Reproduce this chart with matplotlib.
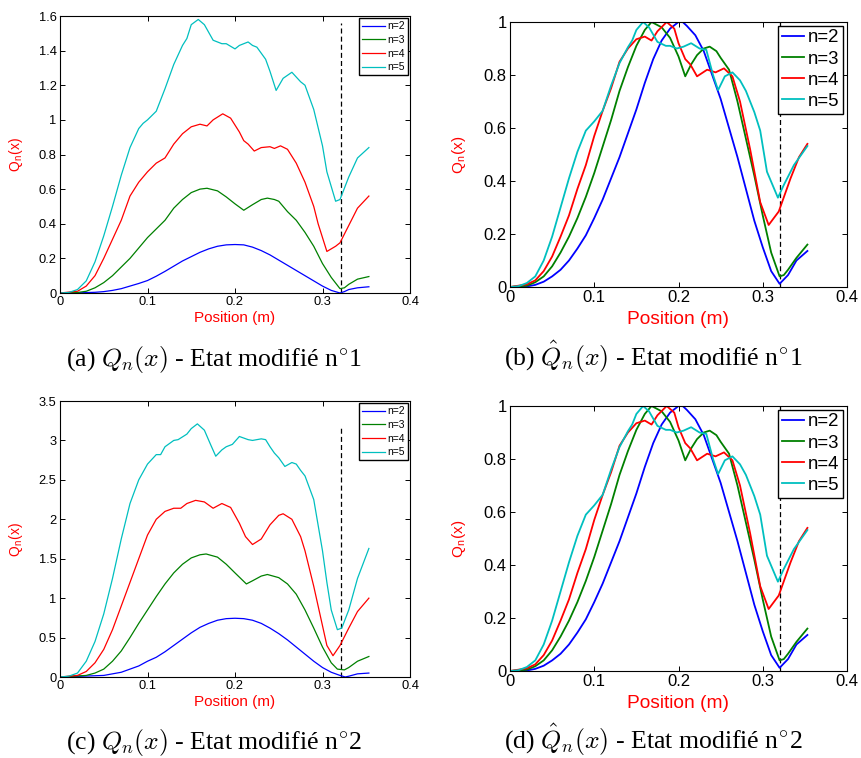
import matplotlib
matplotlib.use("Agg")
import matplotlib.pyplot as plt
from matplotlib.ticker import FuncFormatter, MultipleLocator

plt.rcParams['font.family'] = ['Liberation Sans', 'DejaVu Sans']
plt.rcParams['mathtext.fontset'] = 'cm'

# ---- panel (a): Q_n(x), etat modifie n°1 ----
a_x2 = [0, 0.02, 0.04, 0.05, 0.06, 0.07, 0.08, 0.09, 0.10, 0.11, 0.12, 0.13, 0.14, 0.15, 0.16, 0.17,
        0.18, 0.19, 0.20, 0.21, 0.22, 0.23, 0.24, 0.25, 0.26, 0.27, 0.28, 0.29, 0.30, 0.31, 0.32,
        0.325, 0.33, 0.34, 0.353]
a_y2 = [0, 0.001, 0.004, 0.008, 0.015, 0.025, 0.04, 0.055, 0.072, 0.097, 0.125, 0.155, 0.185, 0.21,
        0.235, 0.255, 0.27, 0.278, 0.28, 0.278, 0.265, 0.245, 0.22, 0.19, 0.16, 0.13, 0.1, 0.07, 0.04,
        0.015, 0.0, 0.008, 0.02, 0.03, 0.036]
a_x3 = [0, 0.02, 0.03, 0.04, 0.05, 0.06, 0.07, 0.08, 0.09, 0.10, 0.11, 0.12, 0.13, 0.14, 0.15, 0.16,
        0.168, 0.18, 0.19, 0.20, 0.21, 0.22, 0.23, 0.237, 0.245, 0.25, 0.26, 0.27, 0.28, 0.29, 0.30,
        0.31, 0.32, 0.325, 0.33, 0.34, 0.353]
a_y3 = [0, 0.003, 0.01, 0.03, 0.06, 0.1, 0.15, 0.2, 0.26, 0.32, 0.37, 0.42, 0.49, 0.54, 0.58, 0.60,
        0.605, 0.59, 0.555, 0.515, 0.478, 0.51, 0.54, 0.548, 0.54, 0.53, 0.47, 0.42, 0.35, 0.27, 0.17,
        0.09, 0.025, 0.03, 0.05, 0.08, 0.095]
a_x4 = [0, 0.02, 0.03, 0.04, 0.05, 0.06, 0.07, 0.08, 0.09, 0.10, 0.11, 0.12, 0.13, 0.14, 0.15, 0.16,
        0.168, 0.175, 0.186, 0.195, 0.205, 0.21, 0.215, 0.222, 0.23, 0.24, 0.245, 0.252, 0.26, 0.27,
        0.28, 0.29, 0.295, 0.305, 0.315, 0.32, 0.33, 0.34, 0.353]
a_y4 = [0, 0.01, 0.04, 0.1, 0.2, 0.31, 0.42, 0.56, 0.64, 0.70, 0.75, 0.78, 0.86, 0.92, 0.96, 0.975,
        0.965, 1.0, 1.035, 1.01, 0.93, 0.88, 0.86, 0.82, 0.84, 0.845, 0.835, 0.85, 0.83, 0.75, 0.64,
        0.5, 0.4, 0.24, 0.27, 0.29, 0.39, 0.49, 0.56]
a_x5 = [0, 0.01, 0.02, 0.03, 0.04, 0.05, 0.06, 0.07, 0.08, 0.09, 0.095, 0.10, 0.11, 0.12, 0.13, 0.14,
        0.145, 0.15, 0.158, 0.165, 0.175, 0.185, 0.19, 0.20, 0.205, 0.215, 0.22, 0.225, 0.235, 0.24,
        0.247, 0.255, 0.265, 0.275, 0.28, 0.29, 0.30, 0.305, 0.315, 0.32, 0.33, 0.34, 0.353]
a_y5 = [0, 0.003, 0.02, 0.07, 0.18, 0.33, 0.5, 0.68, 0.84, 0.95, 0.98, 1.0, 1.05, 1.18, 1.32, 1.43,
        1.47, 1.55, 1.58, 1.55, 1.46, 1.44, 1.44, 1.41, 1.43, 1.45, 1.43, 1.42, 1.35, 1.28, 1.17, 1.24,
        1.275, 1.22, 1.2, 1.06, 0.85, 0.7, 0.53, 0.54, 0.67, 0.78, 0.84]

# ---- panels (b) and (d): normalised Q_n(x) (the two look identical) ----
b_x2 = [0, 0.02, 0.03, 0.04, 0.05, 0.06, 0.07, 0.08, 0.09, 0.10, 0.11, 0.12, 0.13, 0.14, 0.15, 0.16,
        0.17, 0.18, 0.19, 0.20, 0.205, 0.21, 0.22, 0.23, 0.24, 0.25, 0.26, 0.27, 0.28, 0.29, 0.30,
        0.31, 0.32, 0.33, 0.34, 0.353]
b_y2 = [0, 0.002, 0.008, 0.02, 0.04, 0.065, 0.1, 0.145, 0.195, 0.26, 0.33, 0.41, 0.49, 0.58, 0.67,
        0.77, 0.86, 0.93, 0.975, 1.0, 1.0, 0.985, 0.95, 0.89, 0.8, 0.71, 0.6, 0.49, 0.37, 0.25, 0.15,
        0.06, 0.012, 0.045, 0.1, 0.136]
b_x3 = [0, 0.02, 0.03, 0.04, 0.05, 0.06, 0.07, 0.08, 0.09, 0.10, 0.11, 0.12, 0.13, 0.14, 0.15, 0.16,
        0.168, 0.18, 0.19, 0.20, 0.208, 0.215, 0.222, 0.23, 0.237, 0.245, 0.25, 0.26, 0.27, 0.28, 0.29,
        0.30, 0.31, 0.32, 0.325, 0.33, 0.34, 0.353]
b_y3 = [0, 0.005, 0.018, 0.04, 0.078, 0.13, 0.19, 0.26, 0.34, 0.43, 0.53, 0.63, 0.74, 0.83, 0.91,
        0.97, 1.0, 0.98, 0.94, 0.87, 0.795, 0.84, 0.875, 0.9, 0.907, 0.89, 0.865, 0.82, 0.7, 0.56, 0.42,
        0.27, 0.13, 0.04, 0.045, 0.065, 0.11, 0.16]
b_x4 = [0, 0.02, 0.03, 0.04, 0.05, 0.06, 0.07, 0.08, 0.09, 0.10, 0.11, 0.12, 0.13, 0.14, 0.15, 0.16,
        0.168, 0.175, 0.186, 0.195, 0.20, 0.208, 0.214, 0.222, 0.234, 0.244, 0.254, 0.264, 0.273,
        0.285, 0.297, 0.307, 0.319, 0.333, 0.343, 0.353]
b_y4 = [0, 0.01, 0.025, 0.06, 0.115, 0.19, 0.27, 0.37, 0.46, 0.57, 0.665, 0.75, 0.85, 0.9, 0.935,
        0.945, 0.93, 0.965, 1.0, 0.975, 0.92, 0.86, 0.84, 0.795, 0.82, 0.81, 0.825, 0.795, 0.7, 0.52,
        0.32, 0.234, 0.285, 0.41, 0.49, 0.54]
b_x5 = [0, 0.01, 0.02, 0.03, 0.04, 0.05, 0.06, 0.07, 0.08, 0.09, 0.10, 0.11, 0.12, 0.13, 0.14, 0.145,
        0.15, 0.158, 0.165, 0.175, 0.185, 0.19, 0.198, 0.206, 0.215, 0.225, 0.233, 0.241, 0.247,
        0.255, 0.264, 0.273, 0.28, 0.29, 0.297, 0.305, 0.318, 0.325, 0.337, 0.353]
b_y5 = [0, 0.003, 0.015, 0.04, 0.1, 0.19, 0.3, 0.41, 0.51, 0.59, 0.625, 0.665, 0.76, 0.845, 0.905,
        0.93, 0.97, 1.0, 0.98, 0.925, 0.91, 0.91, 0.9, 0.907, 0.92, 0.9, 0.895, 0.8, 0.743, 0.795,
        0.81, 0.78, 0.74, 0.66, 0.59, 0.435, 0.337, 0.385, 0.46, 0.532]

# ---- panel (c): Q_n(x), etat modifie n°2 ----
c_x2 = [0, 0.05, 0.06, 0.07, 0.08, 0.09, 0.10, 0.11, 0.12, 0.13, 0.14, 0.15, 0.16, 0.17, 0.18, 0.19,
        0.20, 0.21, 0.22, 0.23, 0.24, 0.25, 0.26, 0.27, 0.28, 0.29, 0.30, 0.31, 0.32, 0.326, 0.33,
        0.34, 0.353]
c_y2 = [0, 0.02, 0.04, 0.06, 0.1, 0.14, 0.2, 0.25, 0.32, 0.4, 0.48, 0.56, 0.63, 0.68, 0.72, 0.74,
        0.745, 0.74, 0.72, 0.68, 0.62, 0.55, 0.47, 0.38, 0.29, 0.2, 0.12, 0.06, 0.02, 0.0, 0.01, 0.04,
        0.05]
c_x3 = [0, 0.03, 0.04, 0.05, 0.06, 0.07, 0.08, 0.09, 0.10, 0.11, 0.12, 0.13, 0.14, 0.15, 0.16, 0.167,
        0.18, 0.19, 0.20, 0.213, 0.22, 0.23, 0.237, 0.25, 0.26, 0.27, 0.28, 0.29, 0.30, 0.31, 0.317,
        0.325, 0.33, 0.34, 0.353]
c_y3 = [0, 0.02, 0.05, 0.1, 0.2, 0.33, 0.5, 0.68, 0.85, 1.02, 1.18, 1.32, 1.43, 1.51, 1.55, 1.56,
        1.52, 1.43, 1.32, 1.18, 1.22, 1.28, 1.3, 1.26, 1.18, 1.05, 0.85, 0.62, 0.38, 0.18, 0.1, 0.09,
        0.12, 0.2, 0.26]
c_x4 = [0, 0.02, 0.03, 0.04, 0.05, 0.06, 0.07, 0.08, 0.09, 0.10, 0.11, 0.12, 0.13, 0.138, 0.145,
        0.155, 0.165, 0.175, 0.185, 0.195, 0.205, 0.212, 0.22, 0.23, 0.24, 0.25, 0.255, 0.265, 0.275,
        0.28, 0.29, 0.30, 0.305, 0.312, 0.32, 0.33, 0.34, 0.353]
c_y4 = [0, 0.02, 0.07, 0.18, 0.35, 0.6, 0.9, 1.2, 1.5, 1.8, 2.0, 2.1, 2.14, 2.14, 2.2, 2.24, 2.22,
        2.14, 2.2, 2.15, 1.95, 1.78, 1.68, 1.75, 1.93, 2.05, 2.07, 2.0, 1.78, 1.6, 1.15, 0.65, 0.4,
        0.27, 0.4, 0.62, 0.83, 1.0]
c_x5 = [0, 0.01, 0.02, 0.03, 0.04, 0.05, 0.06, 0.07, 0.08, 0.09, 0.10, 0.11, 0.115, 0.12, 0.13, 0.135,
        0.145, 0.15, 0.157, 0.165, 0.172, 0.178, 0.185, 0.19, 0.197, 0.205, 0.215, 0.22, 0.23, 0.235,
        0.24, 0.245, 0.25, 0.257, 0.265, 0.27, 0.275, 0.28, 0.29, 0.30, 0.305, 0.31, 0.317, 0.322,
        0.33, 0.34, 0.353]
c_y5 = [0, 0.01, 0.05, 0.2, 0.45, 0.8, 1.25, 1.75, 2.2, 2.5, 2.7, 2.82, 2.82, 2.92, 3.0, 3.01, 3.08,
        3.15, 3.21, 3.13, 2.95, 2.8, 2.88, 2.92, 2.95, 3.05, 3.01, 3.0, 3.02, 3.01, 2.92, 2.84, 2.78,
        2.67, 2.72, 2.7, 2.62, 2.55, 2.25, 1.6, 1.2, 0.85, 0.6, 0.62, 0.85, 1.25, 1.63]

labels = ['n=2', 'n=3', 'n=4', 'n=5']
colors = ['#0000ff', '#008000', '#ff0000', '#00bfbf']
x_marker = 0.321  # position of the dashed line

W, H = 862, 758
fig = plt.figure(figsize=(W / 100, H / 100), dpi=100)


def make_axes(left, top, right, bottom):
    return fig.add_axes([left / W, 1 - bottom / H, (right - left) / W, (bottom - top) / H])


def fmt(v, pos):
    return '%g' % round(v, 3)


def style(ax, ymax, ystep, big):
    ax.set_xlim(0, 0.4)
    ax.set_ylim(0, ymax)
    ax.xaxis.set_major_locator(MultipleLocator(0.1))
    ax.yaxis.set_major_locator(MultipleLocator(ystep))
    ax.xaxis.set_major_formatter(FuncFormatter(fmt))
    ax.yaxis.set_major_formatter(FuncFormatter(fmt))
    fs = 12 if big else 9.3
    ax.tick_params(direction='in', top=True, right=True, length=3.5, width=0.7,
                   labelsize=fs, pad=2.5)
    for sp in ax.spines.values():
        sp.set_linewidth(0.8)
    ax.set_xlabel('Position (m)', color='red', fontsize=13.8 if big else 11)
    ax.set_ylabel(r'Q$_\mathregular{n}$(x)', color='red', fontsize=11 if big else 10)
    if big:
        ax.xaxis.set_label_coords(0.5, -0.09)
        ax.yaxis.set_label_coords(-0.125, 0.5)
    else:
        ax.xaxis.set_label_coords(0.5, -0.065)
        ax.yaxis.set_label_coords(-0.1, 0.5)


def draw(ax, xs, ys, vtop, ymax, ystep, big):
    lw = 1.3 if big else 0.9
    ax.plot([x_marker, x_marker], [0, vtop], color='black', linestyle=(0, (4, 2.5)), linewidth=0.9)
    for x, y, lab, col in zip(xs, ys, labels, colors):
        ax.plot(x, y, color=col, linewidth=lw, label=lab)
    style(ax, ymax, ystep, big)
    if big:
        leg = ax.legend(loc='upper right', fontsize=13.4, handlelength=1.2, handletextpad=0.2,
                        borderpad=0.2, labelspacing=0.22, borderaxespad=0.2, fancybox=False,
                        framealpha=1, edgecolor='black')
    else:
        leg = ax.legend(loc='upper right', fontsize=7.5, handlelength=2.2, handletextpad=0.2,
                        borderpad=0.3, labelspacing=0.35, borderaxespad=0.2, fancybox=False,
                        framealpha=1, edgecolor='black')
    leg.get_frame().set_linewidth(1.0)


ax_a = make_axes(60, 16, 410, 293)
draw(ax_a, [a_x2, a_x3, a_x4, a_x5], [a_y2, a_y3, a_y4, a_y5], 1.56, 1.6, 0.2, False)

ax_b = make_axes(510, 22, 847, 287)
draw(ax_b, [b_x2, b_x3, b_x4, b_x5], [b_y2, b_y3, b_y4, b_y5], 1.0, 1.0, 0.2, True)

ax_c = make_axes(60, 401, 410, 677)
draw(ax_c, [c_x2, c_x3, c_x4, c_x5], [c_y2, c_y3, c_y4, c_y5], 3.16, 3.5, 0.5, False)

ax_d = make_axes(510, 406, 847, 671)
draw(ax_d, [b_x2, b_x3, b_x4, b_x5], [b_y2, b_y3, b_y4, b_y5], 1.0, 1.0, 0.2, True)

# captions, placed on their baseline
cap = dict(family='Liberation Serif', fontsize=18.5, ha='center', va='baseline')
fig.text(214 / W, 1 - 366 / H, r'(a) $Q_n(x)$ - Etat modifié n$^{{\circ}}$1', **cap)
fig.text(653 / W, 1 - 366 / H, r'(b) $\hat{Q}_n(x)$ - Etat modifié n$^{{\circ}}$1', **cap)
fig.text(214 / W, 1 - 749 / H, r'(c) $Q_n(x)$ - Etat modifié n$^{{\circ}}$2', **cap)
fig.text(653 / W, 1 - 749 / H, r'(d) $\hat{Q}_n(x)$ - Etat modifié n$^{{\circ}}$2', **cap)

fig.savefig('out.png', dpi=100)
